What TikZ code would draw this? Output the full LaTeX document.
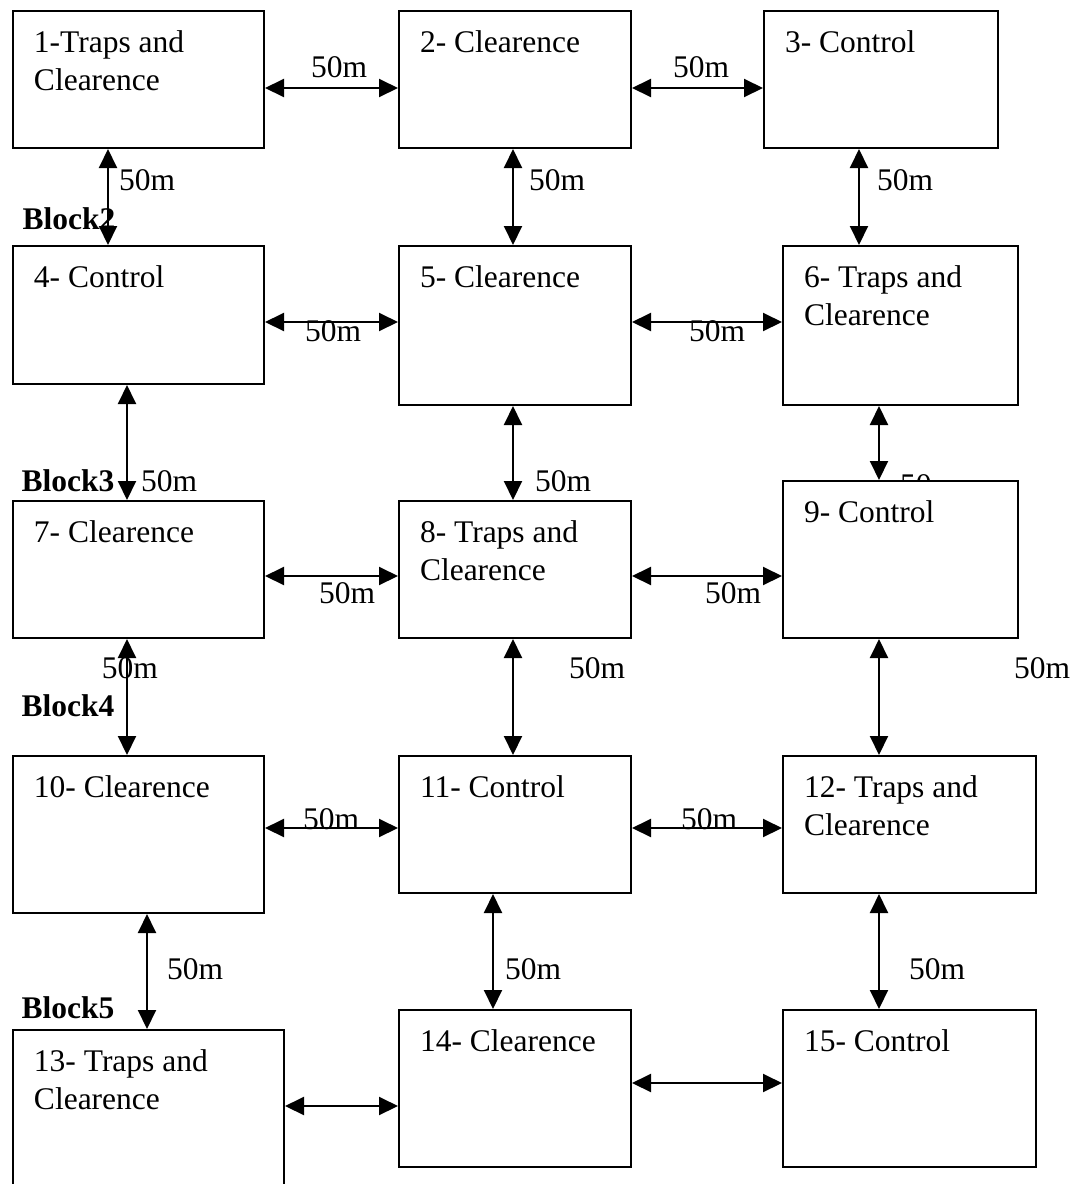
\documentclass[tikz,border=0pt]{standalone}
\usepackage{fontspec}
\setmainfont{Liberation Serif}
\usetikzlibrary{arrows.meta}

% text box in the upper left corner of a block (w, h in pt)
\newcommand{\celltext}[3]{\parbox[t][\dimexpr#2pt-40pt\relax][t]{\dimexpr#1pt-42pt\relax}{#3}}

\begin{document}
\begin{tikzpicture}[x=1pt,y=-1pt,
  cell/.style={draw, line width=2pt, fill=white, anchor=north west,
    inner xsep=21pt, inner ysep=20pt, font=\fontsize{31.5}{38}\selectfont},
  dist/.style={inner sep=0pt, font=\fontsize{31.5}{38}\selectfont},
  blk/.style={inner sep=0pt, font=\fontsize{31.5}{38}\selectfont\bfseries},
  link/.style={line width=2pt,
    {Triangle[length=19pt,width=18pt]}-{Triangle[length=19pt,width=18pt]}}]
\clip (0,0) rectangle (1074,1184);

% this one is half covered by block 9
\node[dist] (d69) at (928,485) {50m};

\node[cell] (b1) at (12,10) {\celltext{251}{137}{1-Traps and\\Clearence}};
\node[cell] (b2) at (398,10) {\celltext{232}{137}{2- Clearence}};
\node[cell] (b3) at (763,10) {\celltext{234}{137}{3- Control}};
\node[cell] (b4) at (12,245) {\celltext{251}{138}{4- Control}};
\node[cell] (b5) at (398,245) {\celltext{232}{159}{5- Clearence}};
\node[cell] (b6) at (782,245) {\celltext{235}{159}{6- Traps and\\Clearence}};
\node[cell] (b7) at (12,500) {\celltext{251}{137}{7- Clearence}};
\node[cell] (b8) at (398,500) {\celltext{232}{137}{8- Traps and\\Clearence}};
\node[cell] (b9) at (782,480) {\celltext{235}{157}{9- Control}};
\node[cell] (b10) at (12,755) {\celltext{251}{157}{10- Clearence}};
\node[cell] (b11) at (398,755) {\celltext{232}{137}{11- Control}};
\node[cell] (b12) at (782,755) {\celltext{253}{137}{12- Traps and\\Clearence}};
\node[cell] (b13) at (12,1029) {\celltext{271}{190}{13- Traps and\\Clearence}};
\node[cell] (b14) at (398,1009) {\celltext{232}{157}{14- Clearence}};
\node[cell] (b15) at (782,1009) {\celltext{253}{157}{15- Control}};

% horizontal links
\draw[link] (b1.east |- 0,88) -- (b2.west |- 0,88);
\draw[link] (b2.east |- 0,88) -- (b3.west |- 0,88);
\draw[link] (b4.east |- 0,322) -- (b5.west |- 0,322);
\draw[link] (b5.east |- 0,322) -- (b6.west |- 0,322);
\draw[link] (b7.east |- 0,576) -- (b8.west |- 0,576);
\draw[link] (b8.east |- 0,576) -- (b9.west |- 0,576);
\draw[link] (b10.east |- 0,828) -- (b11.west |- 0,828);
\draw[link] (b11.east |- 0,828) -- (b12.west |- 0,828);
\draw[link] (b13.east |- 0,1106) -- (b14.west |- 0,1106);
\draw[link] (b14.east |- 0,1083) -- (b15.west |- 0,1083);

% vertical links
\draw[link] (b1.south -| 108,0) -- (b4.north -| 108,0);
\draw[link] (b2.south -| 513,0) -- (b5.north -| 513,0);
\draw[link] (b3.south -| 859,0) -- (b6.north -| 859,0);
\draw[link] (b4.south -| 127,0) -- (b7.north -| 127,0);
\draw[link] (b5.south -| 513,0) -- (b8.north -| 513,0);
\draw[link] (b6.south -| 879,0) -- (b9.north -| 879,0);
\draw[link] (b7.south -| 127,0) -- (b10.north -| 127,0);
\draw[link] (b8.south -| 513,0) -- (b11.north -| 513,0);
\draw[link] (b9.south -| 879,0) -- (b12.north -| 879,0);
\draw[link] (b10.south -| 147,0) -- (b13.north -| 147,0);
\draw[link] (b11.south -| 493,0) -- (b14.north -| 493,0);
\draw[link] (b12.south -| 879,0) -- (b15.north -| 879,0);

% distances
\node[dist] (d12) at (339,67) {50m};
\node[dist] (d23) at (701,67) {50m};
\node[dist] (d14) at (147,180) {50m};
\node[dist] (d25) at (557,180) {50m};
\node[dist] (d36) at (905,180) {50m};
\node[dist] (d45) at (333,331) {50m};
\node[dist] (d56) at (717,331) {50m};
\node[dist] (d47) at (169,481) {50m};
\node[dist] (d58) at (563,481) {50m};
\node[dist] (d78) at (347,593) {50m};
\node[dist] (d89) at (733,593) {50m};
\node[dist] (d710) at (130,668) {50m};
\node[dist] (d811) at (597,668) {50m};
\node[dist] (d912) at (1042,668) {50m};
\node[dist] (d1011) at (331,819) {50m};
\node[dist] (d1112) at (709,819) {50m};
\node[dist] (d1013) at (195,969) {50m};
\node[dist] (d1114) at (533,969) {50m};
\node[dist] (d1215) at (937,969) {50m};

% block names
\node[blk] (blk2) at (69,219) {Block2};
\node[blk] (blk3) at (68,481) {Block3};
\node[blk] (blk4) at (68,706) {Block4};
\node[blk] (blk5) at (68,1008) {Block5};
\end{tikzpicture}
\end{document}
